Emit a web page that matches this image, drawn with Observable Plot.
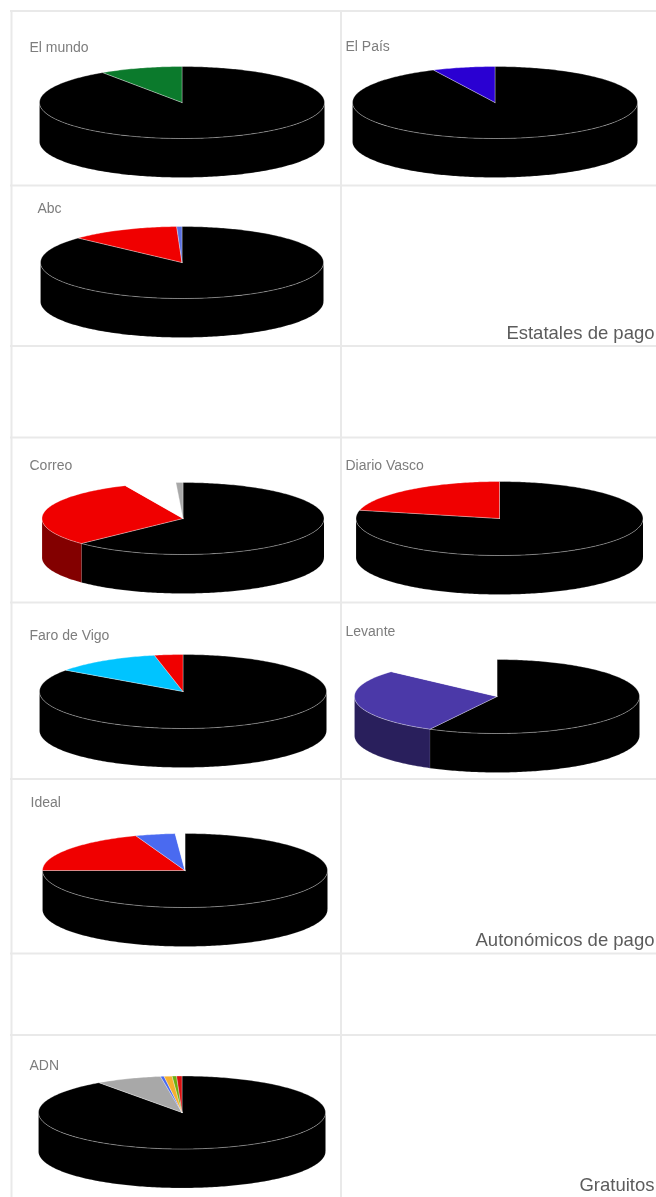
<!DOCTYPE html>
<html lang="es">
<head>
<meta charset="utf-8">
<title>Prensa</title>
<script src="https://cdn.jsdelivr.net/npm/d3@7"></script>
<script src="https://cdn.jsdelivr.net/npm/@observablehq/plot@0.6"></script>
<style>
html,body{margin:0;padding:0;background:#fff;overflow:hidden}
svg{display:block;filter:blur(.55px)}
</style>
</head>
<body>
<div id="chart"></div>
<script>
// Names
const papers = ["El mundo","El País","Abc","Correo","Diario Vasco","Faro de Vigo","Levante","Ideal","ADN"];
const sections = ["Estatales de pago","Autonómicos de pago","Gratuitos"];

// Shares (percent, clockwise from twelve o'clock)
const elMundo = [90.6, 9.4];
const elPais = [92.9, 7.1];
const abc = [86.9, 12.5, 0.6];
const correo = [62.8, 30.5, 5.9, 0.8];
const diarioVasco = [78.6, 21.4];
const faroDeVigo = [84.8, 12.0, 3.2];
const levante = [57.8, 28.9, 13.3];
const ideal = [75.0, 19.4, 4.5, 1.1];
const adn = [90.2, 7.4, 0.4, 0.9, 0.5, 0.6];
const shares = [elMundo, elPais, abc, correo, diarioVasco, faroDeVigo, levante, ideal, adn];

// Slice colours
const elMundoColors = ["#000000","#0b7a2c"];
const elPaisColors = ["#000000","#2a00d2"];
const abcColors = ["#000000","#f00000","#5a70e0"];
const correoColors = ["#000000","#f00000","#ffffff","#a8a8a8"];
const diarioVascoColors = ["#000000","#f00000"];
const faroDeVigoColors = ["#000000","#00c4ff","#f00000"];
const levanteColors = ["#000000","#4b39a8","#ffffff"];
const idealColors = ["#000000","#f00000","#4a6af0","#ffffff"];
const adnColors = ["#000000","#a8a8a8","#4a6af0","#f5b030","#6cb010","#d81010"];
const colors = [elMundoColors, elPaisColors, abcColors, correoColors, diarioVascoColors, faroDeVigoColors, levanteColors, idealColors, adnColors];

// Layout (page pixels)
const W = 656, H = 1197;
const pieCx = [181.5, 494.5, 181.5, 182.5, 499, 182.5, 496.5, 184.5, 181.5];
const pieCy = [102, 102, 262, 518, 518, 691, 696, 870, 1112];
const pieRx = [142.5, 142.5, 141.5, 141, 143.5, 143.5, 142.5, 142.5, 143.5];
const pieRy = [36, 36, 36, 36, 37, 37, 37, 37, 36.5];
const depth = 39;
const labelX = [29, 345, 37, 29, 345, 29, 345, 30, 29];
const labelY = [47, 46, 208, 465, 465, 635, 631, 802, 1065];
const sectionY = [333, 940, 1185];
const hLines = [10.5, 185, 345.5, 437, 602, 778.5, 953, 1034.5];
const vLines = [11, 340.5];

function pt(i, deg, dz = 0) {
  const a = deg * Math.PI / 180;
  return {x: pieCx[i] + pieRx[i] * Math.sin(a), y: pieCy[i] - pieRy[i] * Math.cos(a) + dz};
}
function arc(i, from, to, dz = 0) {
  const n = Math.max(1, Math.ceil(Math.abs(to - from)));
  return d3.range(n + 1).map(k => pt(i, from + (to - from) * k / n, dz));
}

const tops = [], walls = [];
papers.forEach((_, i) => {
  const total = d3.sum(shares[i]);
  let start = 0;
  shares[i].forEach((s, j) => {
    const end = start + s / total * 360;
    const color = colors[i][j];
    const id = `${i}-${j}`;
    const apex = {x: pieCx[i], y: pieCy[i]};
    [apex, ...arc(i, start, end), apex].forEach(p => tops.push({...p, id, color}));
    const a = Math.max(start, 90), b = Math.min(end, 270);
    if (b > a && color !== "#ffffff") {
      const dark = d3.rgb(color).darker(1.7).formatHex();
      [...arc(i, a, b), ...arc(i, b, a, depth)].forEach(p => walls.push({...p, id, color: dark}));
    }
    start = end;
  });
});

const labels = papers.map((name, i) => ({name, x: labelX[i], y: labelY[i]}));
const sectionLabels = sections.map((name, i) => ({name, y: sectionY[i]}));

const chart = Plot.plot({
  width: W, height: H,
  margin: 0,
  style: {background: "#fff"},
  x: {domain: [0, W], range: [0, W], axis: null},
  y: {domain: [0, H], range: [0, H], axis: null},
  color: {type: "identity"},
  marks: [
    Plot.ruleY(hLines, {y: d => d, x1: vLines[0] - 1, x2: W, stroke: "#e9e9e9", strokeWidth: 2}),
    Plot.ruleX(vLines, {x: d => d, y1: hLines[0], y2: H, stroke: "#e9e9e9", strokeWidth: 2}),
    Plot.line(walls, {x: "x", y: "y", z: "id", fill: "color", stroke: "#fff", strokeOpacity: 0.25, strokeWidth: 0.6}),
    Plot.line(tops, {x: "x", y: "y", z: "id", fill: "color", stroke: "#fff", strokeOpacity: 0.45, strokeWidth: 0.7}),
    Plot.text(labels, {x: "x", y: "y", text: "name", textAnchor: "start", lineAnchor: "middle",
      fontFamily: "Liberation Sans", fontSize: 14, fill: "#7d7d7d"}),
    Plot.text(sectionLabels, {x: () => W - 2, y: "y", text: "name", textAnchor: "end", lineAnchor: "middle",
      fontFamily: "Liberation Sans", fontSize: 18.5, fill: "#5c5c5c"})
  ]
});
document.getElementById("chart").appendChild(chart);
</script>
</body>
</html>
